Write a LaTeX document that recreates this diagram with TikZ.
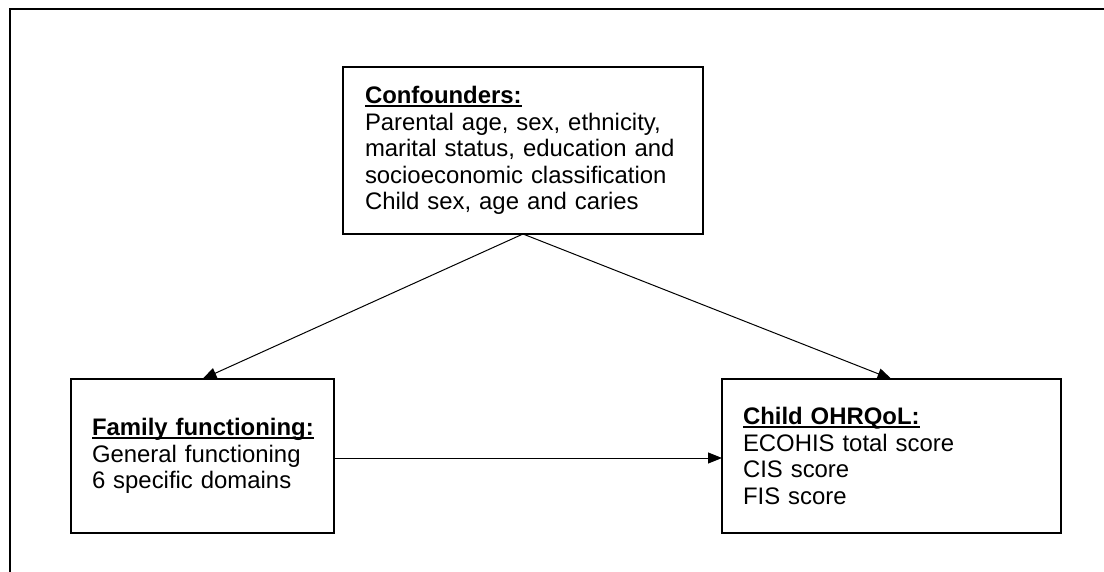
\documentclass[tikz,border=0pt]{standalone}
\usepackage{fontspec}
\setmainfont{Liberation Sans}
\usetikzlibrary{arrows.meta}
\newcommand\myul[1]{\setbox0\hbox{#1}\rlap{\rule[-3.2pt]{\wd0}{1.8pt}}\box0}
\newcommand\oneline[1]{\mbox{#1}}
\begin{document}
\begin{tikzpicture}[x=1pt,y=-1pt,
  box/.style={draw=black,line width=2pt,align=left,anchor=north west,
    outer sep=0pt,inner ysep=0pt,
    font=\fontsize{23.9}{26.6}\selectfont},
  conn/.style={line width=1pt,-{Triangle[length=14pt,width=11pt]}}]
\useasboundingbox (0,0) rectangle (1104,572);
\draw[line width=2.5pt] (10,573) -- (10,9) -- (1106,9);
\node[box,text width=316pt,inner xsep=22pt,minimum width=360pt,minimum height=167pt] (conf) at (343,67)
  {\oneline{\myul{\textbf{Confounders:}}}\\
   \oneline{Parental age, sex, ethnicity,}\\
   \oneline{marital status, education and}\\
   \oneline{socioeconomic classification}\\
   \oneline{Child sex, age and caries}};
\node[box,text width=221pt,inner xsep=21pt,minimum width=263pt,minimum height=154pt] (fam) at (71,379)
  {\oneline{\myul{\textbf{Family functioning:}}}\\
   \oneline{General functioning}\\
   \oneline{6 specific domains}};
\node[box,text width=297pt,inner xsep=21pt,minimum width=339pt,minimum height=154pt] (chi) at (722,379)
  {\oneline{\myul{\textbf{Child OHRQoL:}}}\\
   \oneline{ECOHIS total score}\\
   \oneline{CIS score}\\
   \oneline{FIS score}};
\draw[conn] (conf.south) -- (fam.north);
\draw[conn] (conf.south) -- (chi.north);
\draw[conn] ([yshift=-2pt]fam.east) -- ([yshift=-2pt]chi.west);
\end{tikzpicture}
\end{document}
